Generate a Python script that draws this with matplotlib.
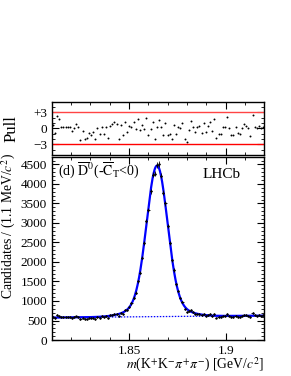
import numpy as np
import matplotlib
matplotlib.use("Agg")
import matplotlib.pyplot as plt
from matplotlib.ticker import MultipleLocator, FixedLocator

# --- Data: K+K-pi+pi- mass, 100 bins of 1.1 MeV ---
m_lo, m_hi, n_bins = 1.81, 1.92, 100
counts = [592, 557, 636, 620, 584, 585, 583, 586, 584, 568,
          580, 603, 588, 531, 572, 538, 544, 567, 558, 572,
          542, 593, 569, 605, 578, 614, 572, 634, 653, 670,
          675, 618, 701, 674, 774, 763, 853, 937, 1086, 1211,
          1510, 1722, 2113, 2493, 3054, 3326, 3816, 4238, 4259, 4483,
          4512, 4207, 3776, 3500, 2923, 2494, 2042, 1797, 1435, 1256,
          1075, 980, 804, 729, 746, 763, 710, 667, 679, 675,
          631, 669, 622, 643, 661, 614, 670, 576, 595, 592,
          625, 623, 675, 620, 587, 586, 623, 597, 594, 620,
          640, 631, 621, 585, 687, 630, 625, 634, 624, 630]

# --- Fit parameters (double Gaussian + linear background), per bin ---
mean = 1.8645
sig_core, amp_core = 0.0053, 3500.0
sig_wide, amp_wide = 0.011, 370.0
bkg_left, bkg_right = 575.0, 625.0

def background(m):
    return bkg_left + (bkg_right - bkg_left) * (m - m_lo) / (m_hi - m_lo)

def model(m):
    d = m - mean
    sig = amp_core * np.exp(-0.5 * (d / sig_core) ** 2) + amp_wide * np.exp(-0.5 * (d / sig_wide) ** 2)
    return sig + background(m)

edges = np.linspace(m_lo, m_hi, n_bins + 1)
centres = 0.5 * (edges[:-1] + edges[1:])
counts = np.array(counts, dtype=float)
errs = np.sqrt(counts)
pulls = (counts - model(centres)) / errs

# --- Style ---
plt.rcParams['font.family'] = ['Liberation Serif', 'DejaVu Serif']
plt.rcParams['mathtext.fontset'] = 'stix'
plt.rcParams['axes.linewidth'] = 1.0

fig = plt.figure(figsize=(2.91, 3.76), dpi=100)
ax_p = fig.add_axes([0.178, 0.588, 0.730, 0.141])
ax = fig.add_axes([0.178, 0.0957, 0.730, 0.4867])

def lhcb_ticks(a):
    a.tick_params(which='both', direction='in', top=True, right=True, labelsize=9.5)
    a.tick_params(which='major', length=5, width=0.8)
    a.tick_params(which='minor', length=2.5, width=0.6)

# --- Pull panel ---
ax_p.plot(centres, pulls, 'o', color='black', ms=1.4, mew=0)
ax_p.axhline(3, color='#ff4444', lw=1.0)
ax_p.axhline(-3, color='red', lw=1.0)
ax_p.set_xlim(m_lo, m_hi)
ax_p.set_ylim(-5, 5)
ax_p.yaxis.set_major_locator(FixedLocator([-3, 0, 3]))
ax_p.set_yticklabels(['\u22123', '0', '+3'])
ax_p.yaxis.set_minor_locator(MultipleLocator(1))
ax_p.xaxis.set_major_locator(MultipleLocator(0.05))
ax_p.xaxis.set_minor_locator(MultipleLocator(0.01))
ax_p.set_xticklabels([])
lhcb_ticks(ax_p)
ax_p.set_ylabel('Pull', fontsize=12)
ax_p.yaxis.set_label_coords(-0.15, 0.5)

# --- Main panel ---
fine = np.linspace(m_lo, m_hi, 600)
ax.plot(fine, background(fine), color='blue', lw=0.9, ls=(0, (1.2, 1.2)))
ax.plot(fine, model(fine), color='blue', lw=1.6)
ax.errorbar(centres, counts, yerr=errs, xerr=0.5 * (m_hi - m_lo) / n_bins,
            fmt='o', color='black', ms=1.7, elinewidth=0.6, capsize=0, mew=0)
ax.set_xlim(m_lo, m_hi)
ax.set_ylim(0, 4690)
ax.xaxis.set_major_locator(FixedLocator([1.85, 1.9]))
ax.set_xticklabels(['1.85', '1.9'])
ax.xaxis.set_minor_locator(MultipleLocator(0.01))
ax.yaxis.set_major_locator(MultipleLocator(500))
ax.yaxis.set_minor_locator(MultipleLocator(100))
lhcb_ticks(ax)
ax.set_ylabel(r'Candidates / (1.1 MeV/$c^2$)', fontsize=9.8, ha='right')
ax.yaxis.set_label_coords(-0.158, 1.02)
ax.set_xlabel(r'$m$(K$^{+}$K$^{-}\pi^{+}\pi^{-}$) [GeV/$c^2$]', fontsize=9.8, ha='right')
ax.xaxis.set_label_coords(1.0, -0.088)

ax.text(0.03, 0.985, r'(d) $\overline{\rm D}^0$(-$\overline{\rm C}_{\rm T}$<0)',
        transform=ax.transAxes, fontsize=10, va='top', ha='left')
ax.text(0.71, 0.94, 'LHCb', transform=ax.transAxes, fontsize=11, va='top', ha='left')

fig.savefig('out.png', dpi=100)
